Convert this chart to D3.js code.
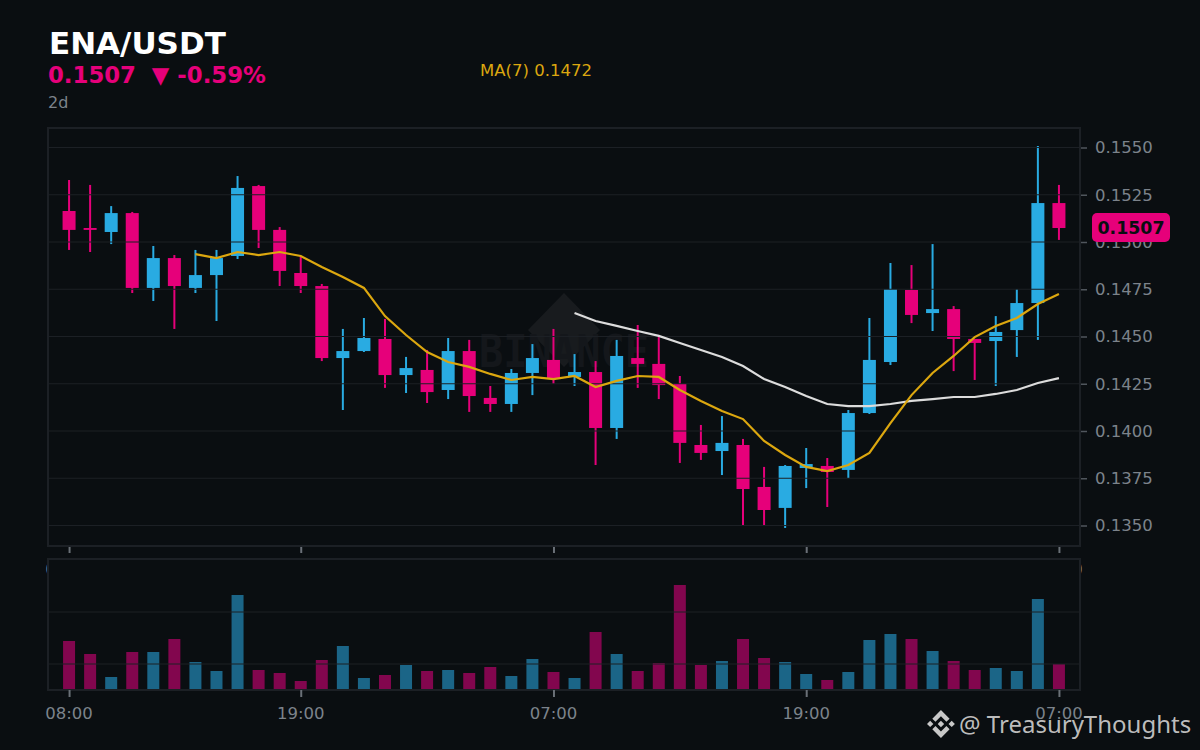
<!DOCTYPE html>
<html lang="en">
  <head>
    <meta charset="utf-8">
    <title>ENA/USDT</title>
    <style>
      html, body { margin: 0; padding: 0; background: #0a0e11; }
      svg { display: block; }
      text { font-family: "DejaVu Sans", sans-serif; }
    </style>
  </head>
  <body>

<script src="https://d3js.org/d3.v7.min.js"></script>

<script>

//candles
var open = [0.15164, 0.15074, 0.15053, 0.15153, 0.14757, 0.14915, 0.14757, 0.14825, 0.14926, 0.15296, 0.15064, 0.14836, 0.14767, 0.14386, 0.14423, 0.14487, 0.14296, 0.14323, 0.14217, 0.14423, 0.14175, 0.14143, 0.14307, 0.14376, 0.14286, 0.14312, 0.14016, 0.14386, 0.14355, 0.14249, 0.13926, 0.13894, 0.13926, 0.13704, 0.13593, 0.13804, 0.13815, 0.13794, 0.14095, 0.14365, 0.14746, 0.14624, 0.14645, 0.14487, 0.14476, 0.14534, 0.14677, 0.15206];
var high = [0.15328, 0.15302, 0.15190, 0.15159, 0.14979, 0.14931, 0.14958, 0.14958, 0.15349, 0.15302, 0.15079, 0.14926, 0.14778, 0.14540, 0.14598, 0.14593, 0.14392, 0.14429, 0.14492, 0.14482, 0.14238, 0.14328, 0.14460, 0.14540, 0.14407, 0.14370, 0.14482, 0.14561, 0.14497, 0.14291, 0.14032, 0.14079, 0.13958, 0.13810, 0.13820, 0.13910, 0.13857, 0.14111, 0.14598, 0.14889, 0.14878, 0.14989, 0.14661, 0.14487, 0.14608, 0.14751, 0.15508, 0.15302];
var low = [0.14958, 0.14947, 0.14989, 0.14730, 0.14688, 0.14540, 0.14730, 0.14582, 0.14910, 0.14968, 0.14767, 0.14730, 0.14370, 0.14111, 0.14418, 0.14228, 0.14201, 0.14148, 0.14169, 0.14101, 0.14101, 0.14101, 0.14190, 0.14249, 0.14238, 0.13820, 0.13958, 0.14228, 0.14169, 0.13831, 0.13847, 0.13767, 0.13498, 0.13498, 0.13487, 0.13698, 0.13598, 0.13751, 0.14090, 0.14349, 0.14571, 0.14529, 0.14317, 0.14270, 0.14238, 0.14392, 0.14482, 0.15011];
var close = [0.15064, 0.15064, 0.15153, 0.14757, 0.14915, 0.14767, 0.14825, 0.14915, 0.15286, 0.15064, 0.14847, 0.14767, 0.14386, 0.14423, 0.14492, 0.14296, 0.14333, 0.14206, 0.14423, 0.14185, 0.14143, 0.14307, 0.14386, 0.14275, 0.14312, 0.14016, 0.14397, 0.14355, 0.14243, 0.13937, 0.13884, 0.13937, 0.13693, 0.13582, 0.13815, 0.13825, 0.13783, 0.14095, 0.14376, 0.14751, 0.14614, 0.14645, 0.14487, 0.14466, 0.14524, 0.14677, 0.15206, 0.15074];
var volume = [48, 35, 12, 37, 37, 50, 27, 18, 94, 19, 16, 8, 29, 43, 11, 14, 24, 18, 19, 16, 22, 13, 30, 17, 11, 57, 35, 18, 26, 104, 24, 28, 50, 31, 27, 15, 9, 17, 49, 55, 50, 38, 28, 19, 21, 18, 90, 25];

//moving averages, first value sits on candle ma7_start / ma25_start
var ma7_start = 6;
var ma7 = [0.14936, 0.14915, 0.14947, 0.14931, 0.14947, 0.14926, 0.14868, 0.14815, 0.14757, 0.14608, 0.14508, 0.14418, 0.14365, 0.14339, 0.14302, 0.14270, 0.14286, 0.14275, 0.14291, 0.14233, 0.14265, 0.14291, 0.14286, 0.14217, 0.14159, 0.14106, 0.14063, 0.13947, 0.13873, 0.13810, 0.13788, 0.13820, 0.13884, 0.14042, 0.14190, 0.14307, 0.14397, 0.14497, 0.14556, 0.14598, 0.14672, 0.14725];
var ma25_start = 24;
var ma25 = [0.14624, 0.14582, 0.14556, 0.14529, 0.14503, 0.14466, 0.14429, 0.14392, 0.14344, 0.14275, 0.14233, 0.14185, 0.14143, 0.14132, 0.14132, 0.14143, 0.14159, 0.14169, 0.14180, 0.14180, 0.14196, 0.14217, 0.14254, 0.14280];

//axes
var price_ticks = [0.1350, 0.1375, 0.1400, 0.1425, 0.1450, 0.1475, 0.1500, 0.1525, 0.1550];
var volume_grid = [25, 77];
var time_ticks = [0, 11, 23, 35, 47];
var time_labels = ["08:00", "19:00", "07:00", "19:00", "07:00"];

var bg = "#0a0e11", up = "#29abe2", down = "#e6007a", line_col = "#1c2025", label_col = "#7c838b";

var svg = d3.select("body").append("svg")
            .attr("width", 1200)
            .attr("height", 750);

svg.append("rect").attr("width", 1200).attr("height", 750).attr("fill", bg);

var x = d3.scaleLinear().domain([-1, 48]).range([48, 1080]);
var y = d3.scaleLinear().domain([0.1350, 0.1550]).range([525.5, 147.5]);
var y_vol = d3.scaleLinear().domain([0, 130]).range([689, 559]);

function col(i) { return close[i] < open[i] ? down : up; }

var ids = d3.range(open.length);

//watermark behind the candles
var wm = svg.append("g");
wm.append("path")
  .attr("d", "M564 293 L600 330 L564 367 L528 330 Z")
  .attr("fill", "#181b1e");
wm.append("text")
  .attr("x", 479).attr("y", 367)
  .attr("textLength", 170)
  .attr("lengthAdjust", "spacingAndGlyphs")
  .style("font-family", "'DejaVu Sans Mono', monospace")
  .style("font-size", "44px")
  .style("font-weight", "bold")
  .attr("fill", "#14171b")
  .text("BINANCE");

//wicks
svg.append("g").selectAll("line").data(ids).enter().append("line")
   .attr("x1", function(i) { return x(i); })
   .attr("x2", function(i) { return x(i); })
   .attr("y1", function(i) { return y(high[i]); })
   .attr("y2", function(i) { return y(low[i]); })
   .attr("stroke", col)
   .attr("stroke-width", 2);

//bodies
svg.append("g").selectAll("rect").data(ids).enter().append("rect")
   .attr("x", function(i) { return x(i) - 6.5; })
   .attr("width", 13)
   .attr("y", function(i) { return y(Math.max(open[i], close[i])); })
   .attr("height", function(i) { return Math.abs(y(open[i]) - y(close[i])); })
   .attr("fill", col);

//price grid goes over the candles
svg.append("g").selectAll("line").data(price_ticks).enter().append("line")
   .attr("x1", 48).attr("x2", 1080)
   .attr("y1", function(d) { return y(d); })
   .attr("y2", function(d) { return y(d); })
   .attr("stroke", line_col)
   .attr("stroke-width", 1.2);

//moving averages
var ma_line = d3.line().x(function(d) { return x(d[0]); }).y(function(d) { return y(d[1]); });

svg.append("path")
   .attr("d", ma_line(ma25.map(function(v, i) { return [ma25_start + i, v]; })))
   .attr("fill", "none").attr("stroke", "#dcdcdc").attr("stroke-width", 2.2);

svg.append("path")
   .attr("d", ma_line(ma7.map(function(v, i) { return [ma7_start + i, v]; })))
   .attr("fill", "none").attr("stroke", "#dca70f").attr("stroke-width", 2.2);

//price axis
var y_axis = svg.append("g")
   .attr("transform", "translate(1080,0)")
   .call(d3.axisRight(y).tickValues(price_ticks).tickFormat(d3.format(".4f")).tickSize(7).tickPadding(8));
y_axis.select(".domain").remove();
y_axis.selectAll("line").attr("stroke", "#50565d").attr("stroke-width", 1.5);
y_axis.selectAll("text").attr("fill", label_col).style("font-size", "16.5px").style("font-family", "'DejaVu Sans', sans-serif");

//time axis of the price panel, its labels end up behind the volume panel
var x_axis_top = svg.append("g")
   .attr("transform", "translate(0,546)")
   .call(d3.axisBottom(x).tickValues(time_ticks).tickFormat(function(d, i) { return time_labels[i]; }).tickSize(7).tickPadding(10));
x_axis_top.select(".domain").remove();
x_axis_top.selectAll("line").attr("stroke", "#6a7077").attr("stroke-width", 2);
x_axis_top.selectAll("text").attr("fill", label_col).attr("dx", -0.5).style("font-size", "16.5px").style("font-family", "'DejaVu Sans', sans-serif");

svg.append("rect")
   .attr("x", 48).attr("y", 128).attr("width", 1032).attr("height", 418)
   .attr("fill", "none").attr("stroke", line_col).attr("stroke-width", 2);

//volume panel
svg.append("rect")
   .attr("x", 48).attr("y", 559).attr("width", 1032).attr("height", 131)
   .attr("fill", bg);

svg.append("g").selectAll("rect").data(ids).enter().append("rect")
   .attr("x", function(i) { return x(i) - 6; })
   .attr("width", 12)
   .attr("y", function(i) { return y_vol(volume[i]); })
   .attr("height", function(i) { return y_vol(0) - y_vol(volume[i]); })
   .attr("fill", function(i) { return close[i] < open[i] ? "#82064e" : "#1b6587"; });

svg.append("g").selectAll("line").data(volume_grid).enter().append("line")
   .attr("x1", 48).attr("x2", 1080)
   .attr("y1", function(d) { return y_vol(d); })
   .attr("y2", function(d) { return y_vol(d); })
   .attr("stroke", line_col)
   .attr("stroke-width", 1.2);

svg.append("rect")
   .attr("x", 48).attr("y", 559).attr("width", 1032).attr("height", 131)
   .attr("fill", "none").attr("stroke", line_col).attr("stroke-width", 2);

var x_axis = svg.append("g")
   .attr("transform", "translate(0,690)")
   .call(d3.axisBottom(x).tickValues(time_ticks).tickFormat(function(d, i) { return time_labels[i]; }).tickSize(7).tickPadding(10));
x_axis.select(".domain").remove();
x_axis.selectAll("line").attr("stroke", "#6a7077").attr("stroke-width", 2);
x_axis.selectAll("text").attr("fill", label_col).attr("dx", -0.5).style("font-size", "16.5px").style("font-family", "'DejaVu Sans', sans-serif");

//header
svg.append("text").attr("x", 49).attr("y", 54)
   .style("font-size", "31px").style("font-weight", "bold").attr("fill", "#ffffff").text("ENA/USDT");
svg.append("text").attr("x", 48).attr("y", 83)
   .style("font-size", "22.8px").style("font-weight", "bold").attr("fill", down)
   .attr("xml:space", "preserve").style("white-space", "pre").text("0.1507  \u25BC -0.59%");
svg.append("text").attr("x", 48).attr("y", 108)
   .style("font-size", "16px").attr("fill", label_col).text("2d");
svg.append("text").attr("x", 480).attr("y", 76)
   .style("font-size", "16.5px").attr("fill", "#dca70f").text("MA(7) 0.1472");

//last price badge
svg.append("rect")
   .attr("x", 1092).attr("y", 213).attr("width", 78).attr("height", 29).attr("rx", 5)
   .attr("fill", down);
svg.append("text").attr("x", 1131).attr("y", 234)
   .attr("text-anchor", "middle")
   .style("font-size", "17.4px").style("font-weight", "bold").attr("fill", "#0a0e11").text("0.1507");

//credit
svg.append("path")
   .attr("transform", "translate(927,710) scale(0.2222)")
   .attr("fill", "#c8c8c8")
   .attr("d", "M38.171 53.203L62.759 28.616l24.6 24.6 14.306-14.307L62.759 0 23.864 38.896l14.307 14.307z M0 62.759l14.307-14.307 14.306 14.307-14.306 14.306z M38.171 72.315l24.588 24.587 24.6-24.6 14.306 14.3-38.906 38.917L23.864 86.63z M96.9 62.759l14.307-14.307 14.306 14.307-14.306 14.306z M77.271 62.759L62.759 48.247 52.03 58.976l-1.232 1.233-2.541 2.55 14.502 14.5L77.271 62.76z");
svg.append("text").attr("x", 959).attr("y", 733)
   .style("font-family", "'Noto Sans', sans-serif")
   .style("font-size", "24px").attr("fill", "#c8c8c8").attr("fill-opacity", 0.95).text("@ TreasuryThoughts");

</script>

  </body>
</html>
